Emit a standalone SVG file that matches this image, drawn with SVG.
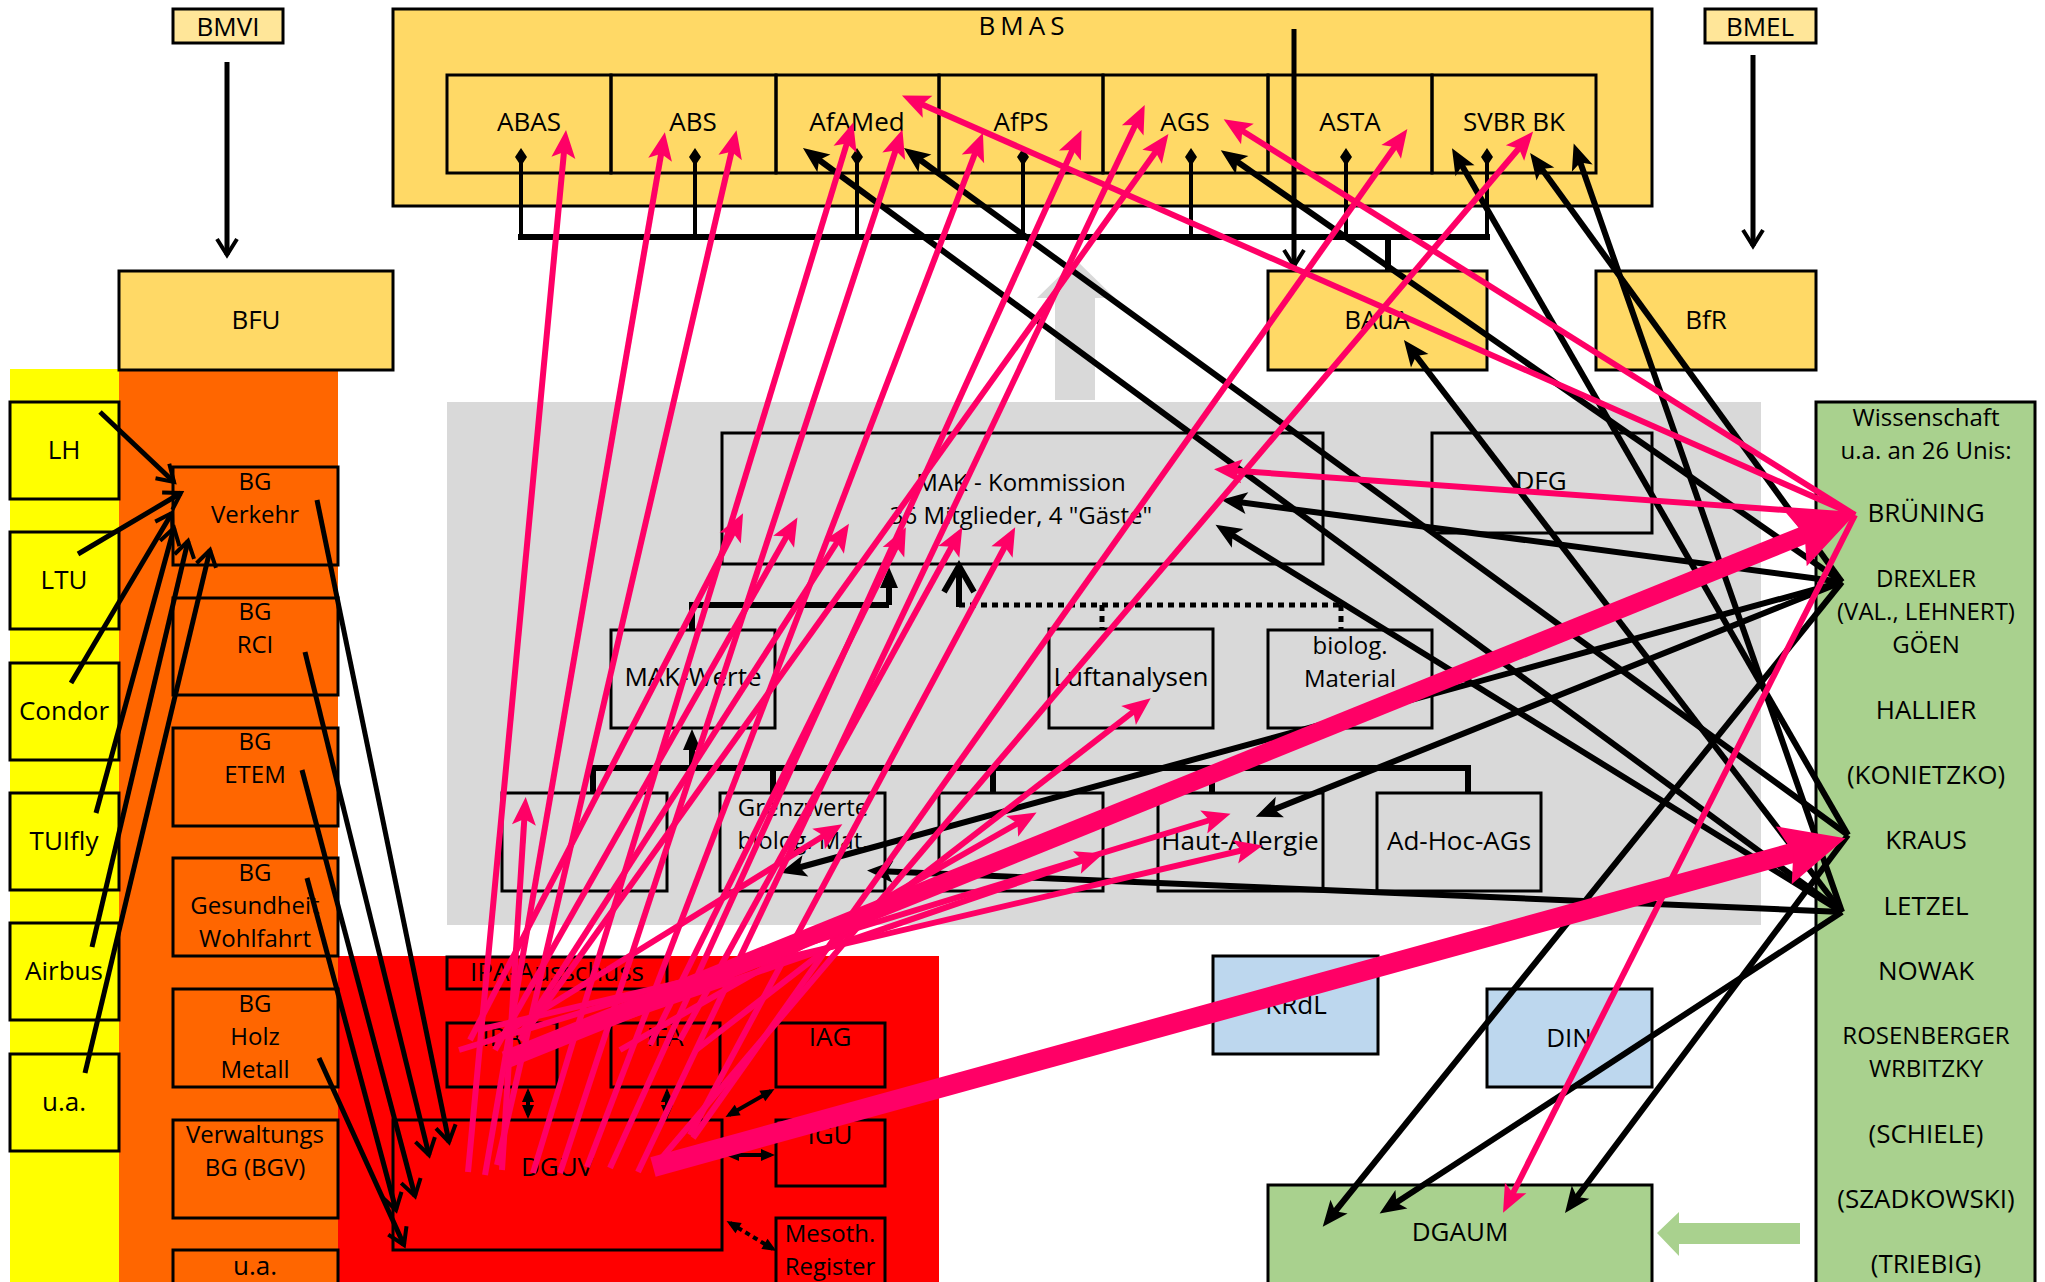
<svg xmlns="http://www.w3.org/2000/svg" width="2045" height="1282" viewBox="0 0 2045 1282">
<defs>
<style>
.t{font-family:"Open Sans",Lato,"Liberation Sans",sans-serif;font-size:26px;text-anchor:middle;dominant-baseline:central;fill:#000}
.t2{font-size:24px}
.bx{stroke:#000;stroke-width:3}
.nf{fill:none}
.bk{stroke:#000;stroke-width:6;fill:none;marker-end:url(#ab)}
.bo{stroke:#000;stroke-width:5;fill:none;marker-end:url(#ao)}
.bs{stroke:#000;stroke-width:4;fill:none;marker-end:url(#as);marker-start:url(#as)}
.pk{stroke:#FF0066;stroke-width:6;fill:none;marker-end:url(#ap)}
.pt{stroke:#FF0066;fill:none;marker-end:url(#apb)}
</style>
<marker id="ab" markerUnits="userSpaceOnUse" markerWidth="26" markerHeight="22" viewBox="0 0 26 22" refX="16" refY="11" orient="auto" style="overflow:visible"><path d="M0,0 L26,11 L0,22 L6,11 Z" fill="#000"/></marker>
<marker id="ao" markerUnits="userSpaceOnUse" markerWidth="22" markerHeight="24" viewBox="-2 -2 22 24" refX="16" refY="10" orient="auto" style="overflow:visible"><path d="M0,0 L16,10 L0,20" fill="none" stroke="#000" stroke-width="4"/></marker>
<marker id="as" markerUnits="userSpaceOnUse" markerWidth="14" markerHeight="12" viewBox="0 0 14 12" refX="10" refY="6" orient="auto-start-reverse" style="overflow:visible"><path d="M0,0 L14,6 L0,12 Z" fill="#000"/></marker>
<marker id="ap" markerUnits="userSpaceOnUse" markerWidth="28" markerHeight="24" viewBox="0 0 28 24" refX="17" refY="12" orient="auto" style="overflow:visible"><path d="M0,0 L28,12 L0,24 L6,12 Z" fill="#FF0066"/></marker>
<marker id="apb" markerUnits="userSpaceOnUse" markerWidth="64" markerHeight="60" viewBox="0 0 64 60" refX="20" refY="30" orient="auto" style="overflow:visible"><path d="M0,0 L64,30 L0,60 L10,30 Z" fill="#FF0066"/></marker>
</defs>
<rect width="2045" height="1282" fill="#fff"/>

<g id="zones">
<rect x="10" y="369" width="109" height="913" fill="#FFFF00"/>
<rect x="119" y="369" width="219" height="913" fill="#FF6600"/>
<rect x="338" y="956" width="601" height="326" fill="#FF0000"/>
<rect x="447" y="402" width="1314" height="523" fill="#D9D9D9"/>
<polygon points="1055,400 1055,298 1037,298 1076,260 1115,298 1095,298 1095,400" fill="#D9D9D9"/>
</g>

<g id="BMVI"><rect class="bx" x="173" y="9" width="110" height="34" fill="#FFE699"/><text class="t" x="228" y="26">BMVI</text></g>
<g id="BMEL"><rect class="bx" x="1705" y="9" width="111" height="34" fill="#FFE699"/><text class="t" x="1760" y="26">BMEL</text></g>
<g id="BMAS"><rect class="bx" x="393" y="9" width="1259" height="197" fill="#FFD966"/><text class="t" x="1024" y="25" letter-spacing="5">BMAS</text></g>
<g id="ABAS"><rect class="bx nf" x="447" y="75" width="164" height="98"/><text class="t" x="529" y="121">ABAS</text></g>
<g id="ABS"><rect class="bx nf" x="611" y="75" width="165" height="98"/><text class="t" x="693" y="121">ABS</text></g>
<g id="AfAMed"><rect class="bx nf" x="776" y="75" width="163" height="98"/><text class="t" x="857" y="121">AfAMed</text></g>
<g id="AfPS"><rect class="bx nf" x="939" y="75" width="164" height="98"/><text class="t" x="1021" y="121">AfPS</text></g>
<g id="AGS"><rect class="bx nf" x="1103" y="75" width="165" height="98"/><text class="t" x="1185" y="121">AGS</text></g>
<g id="ASTA"><rect class="bx nf" x="1268" y="75" width="164" height="98"/><text class="t" x="1350" y="121">ASTA</text></g>
<g id="SVBR"><rect class="bx nf" x="1432" y="75" width="164" height="98"/><text class="t" x="1514" y="121">SVBR BK</text></g>
<g id="BFU"><rect class="bx" x="119" y="271" width="274" height="99" fill="#FFD966"/><text class="t" x="256" y="319">BFU</text></g>
<g id="BAuA"><rect class="bx" x="1268" y="271" width="219" height="99" fill="#FFD966"/><text class="t" x="1377" y="319">BAuA</text></g>
<g id="BfR"><rect class="bx" x="1596" y="271" width="220" height="99" fill="#FFD966"/><text class="t" x="1706" y="319">BfR</text></g>

<g id="LH"><rect class="bx nf" x="10" y="402" width="109" height="97"/><text class="t" x="64" y="449">LH</text></g>
<g id="LTU"><rect class="bx nf" x="10" y="532" width="109" height="97"/><text class="t" x="64" y="579">LTU</text></g>
<g id="Condor"><rect class="bx nf" x="10" y="663" width="109" height="97"/><text class="t" x="64" y="710">Condor</text></g>
<g id="TUIfly"><rect class="bx nf" x="10" y="793" width="109" height="97"/><text class="t" x="64" y="840">TUIfly</text></g>
<g id="Airbus"><rect class="bx nf" x="10" y="923" width="109" height="97"/><text class="t" x="64" y="970">Airbus</text></g>
<g id="ua1"><rect class="bx nf" x="10" y="1054" width="109" height="97"/><text class="t" x="64" y="1101">u.a.</text></g>

<g id="BGVerkehr"><rect class="bx nf" x="173" y="467" width="165" height="98"/><text class="t t2" x="255" y="480">BG</text><text class="t t2" x="255" y="513">Verkehr</text></g>
<g id="BGRCI"><rect class="bx nf" x="173" y="598" width="165" height="97"/><text class="t t2" x="255" y="610">BG</text><text class="t t2" x="255" y="643">RCI</text></g>
<g id="BGETEM"><rect class="bx nf" x="173" y="728" width="165" height="98"/><text class="t t2" x="255" y="740">BG</text><text class="t t2" x="255" y="773">ETEM</text></g>
<g id="BGGW"><rect class="bx nf" x="173" y="858" width="165" height="98"/><text class="t t2" x="255" y="871">BG</text><text class="t t2" x="255" y="904">Gesundheit</text><text class="t t2" x="255" y="937">Wohlfahrt</text></g>
<g id="BGHM"><rect class="bx nf" x="173" y="989" width="165" height="98"/><text class="t t2" x="255" y="1002">BG</text><text class="t t2" x="255" y="1035">Holz</text><text class="t t2" x="255" y="1068">Metall</text></g>
<g id="BGV"><rect class="bx nf" x="173" y="1120" width="165" height="98"/><text class="t t2" x="255" y="1133">Verwaltungs</text><text class="t t2" x="255" y="1166">BG (BGV)</text></g>
<g id="ua2"><rect class="bx nf" x="173" y="1250" width="165" height="40"/><text class="t" x="255" y="1265">u.a.</text></g>

<g id="IPAAusschuss"><rect class="bx nf" x="447" y="957" width="220" height="32"/><text class="t" x="557" y="971">IPA-Ausschuss</text></g>
<g id="IPA"><rect class="bx nf" x="447" y="1023" width="110" height="64"/><text class="t" x="502" y="1036">IPA</text></g>
<g id="IFA"><rect class="bx nf" x="611" y="1023" width="109" height="64"/><text class="t" x="665" y="1036">IFA</text></g>
<g id="IAG"><rect class="bx nf" x="776" y="1023" width="109" height="64"/><text class="t" x="830" y="1036">IAG</text></g>
<g id="IGU"><rect class="bx nf" x="776" y="1120" width="109" height="66"/><text class="t" x="830" y="1134">IGU</text></g>
<g id="Mesoth"><rect class="bx nf" x="776" y="1218" width="109" height="72"/><text class="t t2" x="830" y="1232">Mesoth.</text><text class="t t2" x="830" y="1265">Register</text></g>
<g id="DGUV"><rect class="bx nf" x="393" y="1120" width="329" height="130"/><text class="t" x="557" y="1166">DGUV</text></g>

<g id="MAK"><rect class="bx nf" x="722" y="433" width="601" height="131"/><text class="t t2" x="1021" y="481">MAK - Kommission</text><text class="t t2" x="1021" y="514">36 Mitglieder, 4 "Gäste"</text></g>
<g id="DFG"><rect class="bx nf" x="1432" y="433" width="220" height="100"/><text class="t" x="1541" y="480">DFG</text></g>
<g id="MAKWerte"><rect class="bx nf" x="611" y="630" width="164" height="98"/><text class="t" x="693" y="676">MAK-Werte</text></g>
<g id="Luft"><rect class="bx nf" x="1049" y="629" width="164" height="99"/><text class="t" x="1131" y="676">Luftanalysen</text></g>
<g id="BioMat"><rect class="bx nf" x="1268" y="630" width="164" height="98"/><text class="t t2" x="1350" y="644">biolog.</text><text class="t t2" x="1350" y="677">Material</text></g>
<g id="BoxA"><rect class="bx nf" x="502" y="793" width="165" height="98"/></g>
<g id="Grenz"><rect class="bx nf" x="720" y="793" width="165" height="98"/><text class="t t2" x="803" y="806">Grenzwerte</text><text class="t t2" x="803" y="839">biolog. Mat.</text></g>
<g id="BoxC"><rect class="bx nf" x="939" y="793" width="164" height="98"/></g>
<g id="Haut"><rect class="bx nf" x="1158" y="793" width="165" height="98"/><text class="t" x="1240" y="840">Haut-Allergie</text></g>
<g id="AdHoc"><rect class="bx nf" x="1377" y="793" width="164" height="98"/><text class="t" x="1459" y="840">Ad-Hoc-AGs</text></g>

<g id="KRdL"><rect class="bx" x="1213" y="956" width="165" height="98" fill="#BDD7EE"/><text class="t" x="1296" y="1004">KRdL</text></g>
<g id="DIN"><rect class="bx" x="1487" y="989" width="165" height="98" fill="#BDD7EE"/><text class="t" x="1569" y="1037">DIN</text></g>
<g id="DGAUM"><rect class="bx" x="1268" y="1185" width="384" height="110" fill="#A9D18E"/><text class="t" x="1460" y="1231">DGAUM</text></g>
<g id="Wiss"><rect class="bx" x="1816" y="402" width="219" height="890" fill="#A9D18E"/>
<text class="t t2" x="1926" y="416">Wissenschaft</text>
<text class="t t2" x="1926" y="449">u.a. an 26 Unis:</text>
<text class="t" x="1926" y="512">BRÜNING</text>
<text class="t t2" x="1926" y="577">DREXLER</text>
<text class="t t2" x="1926" y="610">(VAL., LEHNERT)</text>
<text class="t t2" x="1926" y="643">GÖEN</text>
<text class="t" x="1926" y="709">HALLIER</text>
<text class="t" x="1926" y="774">(KONIETZKO)</text>
<text class="t" x="1926" y="839">KRAUS</text>
<text class="t" x="1926" y="905">LETZEL</text>
<text class="t" x="1926" y="970">NOWAK</text>
<text class="t t2" x="1926" y="1034">ROSENBERGER</text>
<text class="t t2" x="1926" y="1067">WRBITZKY</text>
<text class="t" x="1926" y="1133">(SCHIELE)</text>
<text class="t" x="1926" y="1198">(SZADKOWSKI)</text>
<text class="t" x="1926" y="1263">(TRIEBIG)</text>
</g>

<g id="connectors">
<polygon points="1657,1233 1679,1212 1679,1223 1800,1223 1800,1244 1679,1244 1679,1256" fill="#A9D18E"/>
<path class="bo" d="M227,62 V255"/>
<path class="bo" d="M1753,55 V246"/>
<path class="bo" d="M1294,29 V266"/>
<g fill="#000">
<path d="M521,148 l6,9 l-6,9 l-6,-9 z"/><path d="M695,148 l6,9 l-6,9 l-6,-9 z"/><path d="M857,148 l6,9 l-6,9 l-6,-9 z"/><path d="M1023,148 l6,9 l-6,9 l-6,-9 z"/><path d="M1191,148 l6,9 l-6,9 l-6,-9 z"/><path d="M1346,148 l6,9 l-6,9 l-6,-9 z"/><path d="M1487,148 l6,9 l-6,9 l-6,-9 z"/>
</g>
<path d="M521,157 V237 M695,157 V237 M857,157 V237 M1023,157 V237 M1191,157 V237 M1346,157 V237 M1487,157 V237" stroke="#000" stroke-width="4" fill="none"/>
<path d="M518,237 H1490 M1388,237 V271" stroke="#000" stroke-width="6" fill="none"/>
<path d="M692,630 V605 H889" stroke="#000" stroke-width="6" fill="none"/>
<path d="M889,605 V586" stroke="#000" stroke-width="6"/>
<path d="M880,588 L889,567 L898,588 Z" fill="#000"/>
<path d="M959,607 V566 M944,592 L959,566 L974,592" stroke="#000" stroke-width="6" fill="none"/>
<path d="M959,605 H1341 M1102,605 V630 M1341,605 V630" stroke="#000" stroke-width="5" stroke-dasharray="6,5" fill="none"/>
<path d="M593,793 V768 H1468 V793 M773,768 V793 M993,768 V793 M1212,768 V793" stroke="#000" stroke-width="6" fill="none"/>
<path d="M692,768 V748" stroke="#000" stroke-width="6"/>
<path d="M683,750 L692,729 L701,750 Z" fill="#000"/>
<path class="bs" d="M528,1092 V1115"/>
<path class="bs" d="M667,1092 V1115"/>
<path class="bs" d="M729,1115 L771,1091"/>
<path class="bs" d="M729,1155 H771"/>
<path class="bs" d="M730,1223 L773,1249" stroke-dasharray="5,4" stroke-width="3"/>
<path class="bo" d="M100,412 L174,482"/>
<path class="bo" d="M78,554 L181,493"/>
<path class="bo" d="M71,683 L172,513"/>
<path class="bo" d="M96,813 L174,528"/>
<path class="bo" d="M92,947 L188,541"/>
<path class="bo" d="M85,1073 L210,550"/>
<path class="bo" d="M317,500 L449,1142"/>
<path class="bo" d="M305,652 L429,1155"/>
<path class="bo" d="M302,770 L415,1196"/>
<path class="bo" d="M307,878 L396,1210"/>
<path class="bo" d="M319,1058 L404,1245"/>
<path class="bk" d="M1842,912 L811,154"/>
<path class="bk" d="M1848,835 L912,154"/>
<path class="bk" d="M1842,582 L1229,156"/>
<path class="bk" d="M1848,835 L1457,157"/>
<path class="bk" d="M1842,582 L1536,161"/>
<path class="bk" d="M1842,912 L1577,153"/>
<path class="bk" d="M1842,912 L1410,348"/>
<path class="bk" d="M1842,582 L1231,501"/>
<path class="bk" d="M1842,912 L1224,530"/>
<path class="bk" d="M1842,582 L790,870"/>
<path class="bk" d="M1842,582 L1265,813"/>
<path class="bk" d="M1842,912 L877,871"/>
<path class="bk" d="M1842,582 L1329,1219"/>
<path class="bk" d="M1842,912 L1388,1208"/>
<path class="bk" d="M1848,835 L1571,1205"/>
<path class="pk" d="M468,1172 L565,141"/>
<path class="pk" d="M485,1175 L663,143"/>
<path class="pk" d="M497,1165 L734,141"/>
<path class="pk" d="M533,1173 L850,133"/>
<path class="pk" d="M560,1173 L899,140"/>
<path class="pk" d="M587,1167 L979,143"/>
<path class="pk" d="M610,1168 L1077,140"/>
<path class="pk" d="M638,1172 L1140,115"/>
<path class="pk" d="M520,1040 L1162,143"/>
<path class="pk" d="M693,1138 L1401,138"/>
<path class="pk" d="M660,1160 L1526,140"/>
<path class="pk" d="M470,1040 L738,523"/>
<path class="pk" d="M495,1050 L792,527"/>
<path class="pk" d="M520,1035 L843,533"/>
<path class="pk" d="M650,1045 L901,537"/>
<path class="pk" d="M680,1040 L957,537"/>
<path class="pk" d="M690,1135 L1010,537"/>
<path class="pk" d="M502,1170 L525,808"/>
<path class="pk" d="M494,1040 L833,830"/>
<path class="pk" d="M620,1050 L1027,818"/>
<path class="pk" d="M530,1050 L1093,857"/>
<path class="pk" d="M696,1050 L1142,705"/>
<path class="pk" d="M459,1050 L1220,817"/>
<path class="pk" d="M478,1030 L1252,848"/>
<path class="pk" d="M1855,515 L912,100" stroke-width="7"/>
<path class="pk" d="M1855,515 L1233,125" stroke-width="7"/>
<path class="pk" d="M1855,515 L1225,470" stroke-width="8"/>
<path class="pk" d="M1855,515 L1508,1203"/>
<path class="pt" d="M505,1060 L1814,531" stroke-width="18"/>
<path class="pt" d="M653,1167 L1803,850" stroke-width="20"/>
</g>
</svg>
